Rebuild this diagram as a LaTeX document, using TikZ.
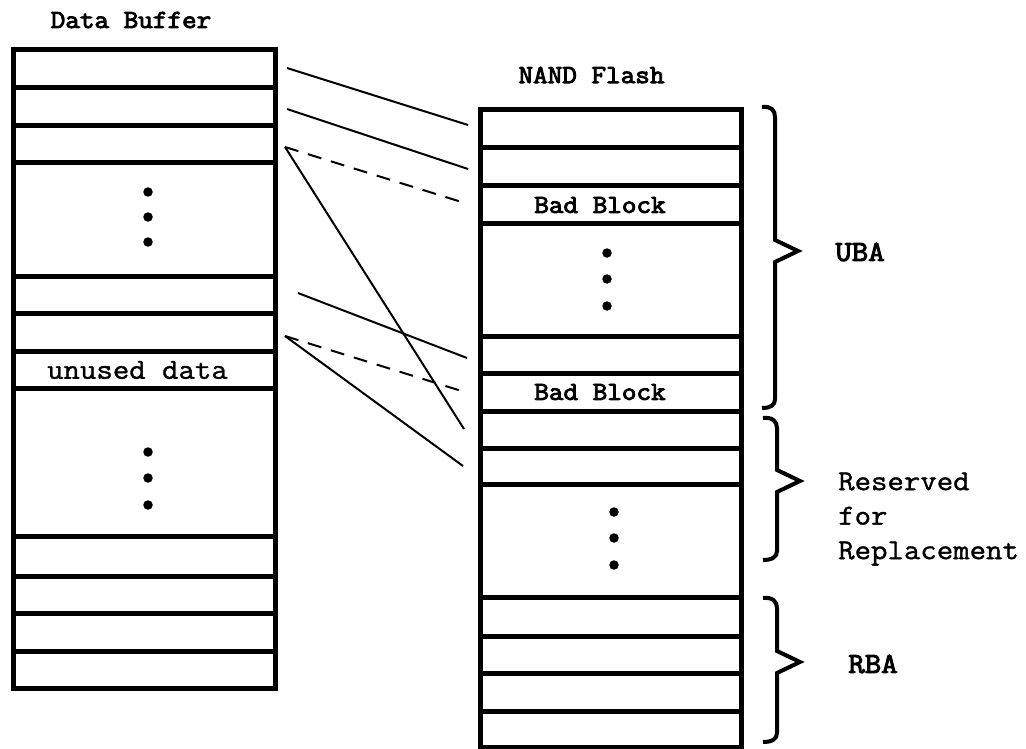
\documentclass[tikz,border=0pt]{standalone}
\usepackage{fontspec}
\newfontfamily\monot{Latin Modern Mono}[FakeStretch=1.09, FakeBold=3.5]
\newfontfamily\monol{Latin Modern Mono}[FakeStretch=1.1, FakeBold=1.2]
\newfontfamily\monolb{Latin Modern Mono}[FakeStretch=1.1, FakeBold=3.5]
\usetikzlibrary{calc}
\begin{document}
\begin{tikzpicture}[x=1pt,y=-1pt,
  cell/.style={draw, line width=5pt, inner sep=0pt, outer sep=0pt, minimum width=262pt},
  rcell/.style={draw, line width=5pt, inner sep=0pt, outer sep=0pt, minimum width=260.5pt},
  link/.style={line width=2pt},
  dlink/.style={line width=2pt, dash pattern=on 14pt off 10pt},
  brace/.style={line width=4pt},
  dot/.style={circle, fill, inner sep=0pt, minimum size=9.5pt},
  title/.style={font=\monot\fontsize{26}{30}\selectfont, inner sep=0pt},
  lab/.style={font=\monol\fontsize{29}{34.5}\selectfont, inner sep=0pt},
  labb/.style={font=\monolb\fontsize{29}{34.5}\selectfont, inner sep=0pt}]
\useasboundingbox (0,0) rectangle (1026,749);

% ---- Data Buffer column ----
\node[title] (tl) at (131,20) {Data Buffer};
\node[cell, minimum height=38pt]  (L1)  at (144,69) {};
\node[cell, minimum height=38pt]  (L2)  at (144,107) {};
\node[cell, minimum height=37pt]  (L3)  at (144,144.5) {};
\node[cell, minimum height=113pt] (L4)  at (144,219.5) {};
\node[cell, minimum height=37pt]  (L5)  at (144,294.5) {};
\node[cell, minimum height=38pt]  (L6)  at (144,332) {};
\node[cell, minimum height=37pt]  (L7)  at (144,369.5) {};
\node[cell, minimum height=148pt] (L8)  at (144,462) {};
\node[cell, minimum height=40pt]  (L9)  at (144,556) {};
\node[cell, minimum height=37pt]  (L10) at (144,594.5) {};
\node[cell, minimum height=38pt]  (L11) at (144,632) {};
\node[cell, minimum height=37pt]  (L12) at (144,669.5) {};
\node[lab] (unused) at ($(L7.center)+(-6.5,0.5)$) {unused data};
\node[dot] (ld1) at (148,192) {};
\node[dot] (ld2) at (148,217) {};
\node[dot] (ld3) at (148,242) {};
\node[dot] (ld4) at (148,452) {};
\node[dot] (ld5) at (148,478) {};
\node[dot] (ld6) at (148,505) {};

% ---- NAND Flash column ----
\node[title] (tr) at (591.5,75) {NAND Flash};
\node[rcell, minimum height=38pt]  (R1)  at (610.75,129) {};
\node[rcell, minimum height=38pt]  (R2)  at (610.75,167) {};
\node[rcell, minimum height=37pt]  (R3)  at (610.75,204.5) {};
\node[rcell, minimum height=113pt] (R4)  at (610.75,279.5) {};
\node[rcell, minimum height=37pt]  (R5)  at (610.75,354.5) {};
\node[rcell, minimum height=38pt]  (R6)  at (610.75,392) {};
\node[rcell, minimum height=37pt]  (R7)  at (610.75,429.5) {};
\node[rcell, minimum height=36pt]  (R8)  at (610.75,466) {};
\node[rcell, minimum height=113pt] (R9)  at (610.75,540.5) {};
\node[rcell, minimum height=39pt]  (R10) at (610.75,616.5) {};
\node[rcell, minimum height=37pt]  (R11) at (610.75,654.5) {};
\node[rcell, minimum height=38pt]  (R12) at (610.75,692) {};
\node[rcell, minimum height=36pt]  (R13) at (610.75,729) {};
\node[title] (bb1) at ($(R3.center)+(-10.75,0.5)$) {Bad Block};
\node[title] (bb2) at ($(R6.center)+(-10.75,0)$) {Bad Block};
\node[dot] (rd1) at (607,253) {};
\node[dot] (rd2) at (607,279) {};
\node[dot] (rd3) at (607,306) {};
\node[dot] (rd4) at (614,512) {};
\node[dot] (rd5) at (614,538) {};
\node[dot] (rd6) at (614,565) {};

% ---- connectors ----
\coordinate (a1) at ($(L1.east)+(12,-1)$);
\coordinate (a2) at ($(L2.east)+(12,2)$);
\coordinate (a3) at ($(L3.east)+(10,2.5)$);
\coordinate (a5) at ($(L5.east)+(23,-1.5)$);
\coordinate (a6) at ($(L6.east)+(10,4)$);
\coordinate (b1) at ($(R1.west)+(-12.5,-4)$);
\coordinate (b2) at ($(R2.west)+(-12.5,2)$);
\coordinate (b3) at ($(R3.west)+(-12.5,-0.5)$);
\coordinate (b5) at ($(R5.west)+(-13.5,3.5)$);
\coordinate (b6) at ($(R6.west)+(-12.5,1)$);
\coordinate (b7) at ($(R7.west)+(-16.5,-0.5)$);
\coordinate (b8) at ($(R8.west)+(-17.5,0)$);
\draw[link]  (a1) -- (b1);
\draw[link]  (a2) -- (b2);
\draw[dlink] (a3) -- (b3);
\draw[link]  (a3) -- (b7);
\draw[link]  (a5) -- (b5);
\draw[dlink] (a6) -- (b6);
\draw[link]  (a6) -- (b8);

% ---- braces ----
\draw[brace] (762,107) .. controls (771,106) and (775,110) .. (775,117) -- (775,240) -- (798,251) -- (775,262) -- (775,399) .. controls (775,405) and (771,408) .. (762,408);
\draw[brace] (763,418) .. controls (772,417) and (777,421) .. (777,428) -- (777,470) -- (800,481) -- (777,492) -- (777,551) .. controls (777,557) and (772,560) .. (763,560);
\draw[brace] (763,598) .. controls (772,597) and (777,601) .. (777,608) -- (777,651) -- (800,662) -- (777,673) -- (777,733) .. controls (777,739) and (772,742) .. (763,742);

% ---- labels ----
\node[labb] (uba) at (860,252) {UBA};
\node[lab, align=left, anchor=west] (rfr) at (838,519) {Reserved\\for\\Replacement};
\node[labb] (rba) at (873,664) {RBA};
\end{tikzpicture}
\end{document}
